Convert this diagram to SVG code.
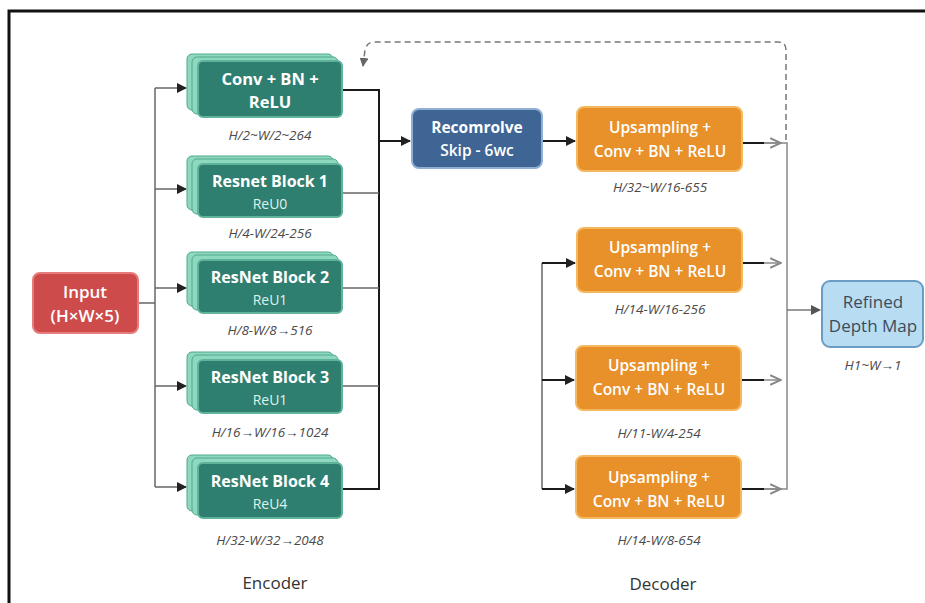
<svg xmlns="http://www.w3.org/2000/svg" width="925" height="603" viewBox="0 0 925 603">
<defs>
<style>
.back{fill:#8fd8c0;stroke:#4fa88e;stroke-width:1}
.front{fill:#2f7f70;stroke:#5fb39b;stroke-width:2}
.t{font-family:"Open Sans","Noto Sans",sans-serif;fill:#ffffff;text-anchor:middle}
.b{font-weight:700;font-size:16.5px}
.r{font-weight:700;font-size:16px}
.s{font-weight:400;font-size:14px;fill:#dff2ec}
.u{font-weight:600;font-size:15.5px}
.lab{font-family:"Open Sans","Noto Sans",sans-serif;font-style:italic;font-size:13.5px;fill:#4a4a4a;text-anchor:middle}
.sec{font-family:"Open Sans","Noto Sans",sans-serif;font-size:17px;fill:#333;text-anchor:middle}
.orange{fill:#e8902a;stroke:#f4b860;stroke-width:2}
.g{fill:none;stroke:#666;stroke-width:1.5}
.k{fill:none;stroke:#1a1a1a;stroke-width:2}
</style>
<marker id="ah" viewBox="0 0 10 10" refX="9" refY="5" markerWidth="10" markerHeight="10" markerUnits="userSpaceOnUse" orient="auto"><path d="M0,0 L10,5 L0,10 z" fill="#222"/></marker>
<marker id="ahg" viewBox="0 0 10 10" refX="9" refY="5" markerWidth="10" markerHeight="10" markerUnits="userSpaceOnUse" orient="auto"><path d="M0,0 L10,5 L0,10 z" fill="#555"/></marker>
<marker id="ahd" viewBox="0 0 10 10" refX="9" refY="5" markerWidth="9" markerHeight="9" markerUnits="userSpaceOnUse" orient="auto"><path d="M0,0 L10,5 L0,10 z" fill="#666"/></marker>
<marker id="chev" viewBox="0 0 10 10" refX="9" refY="5" markerWidth="12" markerHeight="12" markerUnits="userSpaceOnUse" orient="auto"><path d="M0,1 L9,5 L0,9" fill="none" stroke="#888" stroke-width="1.6"/></marker>
</defs>
<rect x="0" y="0" width="925" height="603" fill="#ffffff"/>
<path d="M9,603 L9,11 L925,11" fill="none" stroke="#111" stroke-width="3"/>

<g id="connectors">
  <path class="g" d="M138,303 L155,303"/>
  <path class="g" d="M155,88 L155,487"/>
  <path class="g" d="M155,88 L186,88" marker-end="url(#ah)"/>
  <path class="g" d="M155,189 L186,189" marker-end="url(#ah)"/>
  <path class="g" d="M155,288 L186,288" marker-end="url(#ah)"/>
  <path class="g" d="M155,386 L186,386" marker-end="url(#ah)"/>
  <path class="g" d="M155,487 L186,487" marker-end="url(#ah)"/>
  <path class="k" d="M342,90 L379,90 L379,489 L342,489"/>
  <path class="g" d="M342,193 L379,193"/>
  <path class="g" d="M342,288 L379,288"/>
  <path class="g" d="M342,386 L379,386"/>
  <path class="k" d="M379,141 L410,141" marker-end="url(#ah)"/>
  <path class="k" d="M542,141 L575,141" marker-end="url(#ah)"/>
  <path class="g" d="M542,263 L542,489"/>
  <path class="k" d="M542,263 L575,263" marker-end="url(#ah)"/>
  <path class="k" d="M542,380 L574,380" marker-end="url(#ah)"/>
  <path class="k" d="M542,489 L574,489" marker-end="url(#ah)"/>
  <path class="k" d="M742,143 L764,143"/>
  <path d="M764,143 L781,143" fill="none" stroke="#888" stroke-width="1.5" marker-end="url(#chev)"/>
  <path class="k" d="M742,263 L764,263"/>
  <path d="M764,263 L781,263" fill="none" stroke="#888" stroke-width="1.5" marker-end="url(#chev)"/>
  <path class="k" d="M741,380 L764,380"/>
  <path d="M764,380 L781,380" fill="none" stroke="#888" stroke-width="1.5" marker-end="url(#chev)"/>
  <path class="k" d="M741,489 L764,489"/>
  <path d="M764,489 L781,489" fill="none" stroke="#888" stroke-width="1.5" marker-end="url(#chev)"/>
  <path d="M764,143 L787,143 L787,489 L764,489" fill="none" stroke="#888" stroke-width="1.5"/>
  <path d="M787,310 L820,310" fill="none" stroke="#777" stroke-width="1.5" marker-end="url(#ahg)"/>
  <path d="M786,140 L786,50 Q786,42 778,42 L374,42 Q367,42 365,50 L363,66" fill="none" stroke="#777" stroke-width="1.5" stroke-dasharray="6 4" marker-end="url(#ahd)"/>
</g>

<g id="input">
  <rect x="33" y="273" width="105" height="60" rx="7" fill="#cd4b4b" stroke="#e57b7b" stroke-width="2"/>
  <text class="t" x="85" y="298" style="font-size:17px;font-weight:600">Input</text>
  <text class="t" x="85" y="322" style="font-size:17px;font-weight:600">(H×W×5)</text>
</g>

<g id="enc-conv">
  <rect class="back" x="187" y="54" width="146" height="56" rx="5"/>
  <rect class="back" x="192" y="57" width="146" height="57" rx="5"/>
  <rect class="front" x="198" y="61" width="144" height="56" rx="5"/>
  <text class="t b" x="270" y="85">Conv + BN +</text>
  <text class="t b" x="270" y="108">ReLU</text>
  <text class="lab" x="270" y="140">H/2~W/2~264</text>
</g>

<g id="enc-res1">
  <rect class="back" x="187" y="156" width="146" height="54" rx="5"/>
  <rect class="back" x="192" y="159" width="146" height="55" rx="5"/>
  <rect class="front" x="198" y="164" width="144" height="53" rx="5"/>
  <text class="t r" x="270" y="187">Resnet Block 1</text>
  <text class="t s" x="270" y="209">ReU0</text>
  <text class="lab" x="270" y="238">H/4-W/24-256</text>
</g>

<g id="enc-res2">
  <rect class="back" x="187" y="252" width="146" height="54" rx="5"/>
  <rect class="back" x="192" y="255" width="146" height="55" rx="5"/>
  <rect class="front" x="198" y="260" width="144" height="53" rx="5"/>
  <text class="t r" x="270" y="283">ResNet Block 2</text>
  <text class="t s" x="270" y="305">ReU1</text>
  <text class="lab" x="270" y="335">H/8-W/8→516</text>
</g>

<g id="enc-res3">
  <rect class="back" x="187" y="352" width="146" height="54" rx="5"/>
  <rect class="back" x="192" y="355" width="146" height="55" rx="5"/>
  <rect class="front" x="198" y="360" width="144" height="53" rx="5"/>
  <text class="t r" x="270" y="383">ResNet Block 3</text>
  <text class="t s" x="270" y="405">ReU1</text>
  <text class="lab" x="270" y="437">H/16→W/16→1024</text>
</g>

<g id="enc-res4">
  <rect class="back" x="187" y="455" width="146" height="56" rx="5"/>
  <rect class="back" x="192" y="458" width="146" height="57" rx="5"/>
  <rect class="front" x="198" y="463" width="144" height="55" rx="5"/>
  <text class="t r" x="270" y="487">ResNet Block 4</text>
  <text class="t s" x="270" y="509">ReU4</text>
  <text class="lab" x="270" y="545">H/32-W/32→2048</text>
</g>

<text class="sec" x="275" y="589">Encoder</text>

<g id="recon">
  <rect x="412" y="109" width="130" height="59" rx="7" fill="#3f6595" stroke="#8fb0d4" stroke-width="2"/>
  <text class="t" x="477" y="133" style="font-size:15.5px;font-weight:700">Recomrolve</text>
  <text class="t" x="477" y="156" style="font-size:15.5px;font-weight:600">Skip - 6wc</text>
</g>

<g id="dec-up1">
  <rect class="orange" x="577" y="107" width="165" height="64" rx="7"/>
  <text class="t u" x="660" y="133">Upsampling +</text>
  <text class="t u" x="660" y="157">Conv + BN + ReLU</text>
  <text class="lab" x="660" y="192">H/32~W/16-655</text>
</g>

<g id="dec-up2">
  <rect class="orange" x="577" y="228" width="165" height="64" rx="7"/>
  <text class="t u" x="660" y="253">Upsampling +</text>
  <text class="t u" x="660" y="277">Conv + BN + ReLU</text>
  <text class="lab" x="660" y="314">H/14-W/16-256</text>
</g>

<g id="dec-up3">
  <rect class="orange" x="576" y="346" width="165" height="64" rx="7"/>
  <text class="t u" x="659" y="371">Upsampling +</text>
  <text class="t u" x="659" y="395">Conv + BN + ReLU</text>
  <text class="lab" x="659" y="438">H/11-W/4-254</text>
</g>

<g id="dec-up4">
  <rect class="orange" x="576" y="456" width="165" height="62" rx="7"/>
  <text class="t u" x="659" y="483">Upsampling +</text>
  <text class="t u" x="659" y="507">Conv + BN + ReLU</text>
  <text class="lab" x="659" y="545">H/14-W/8-654</text>
</g>

<text class="sec" x="663" y="590">Decoder</text>

<g id="refined">
  <rect x="822" y="281" width="101" height="66" rx="8" fill="#b8dcf1" stroke="#6b9cc4" stroke-width="2"/>
  <text class="t" x="873" y="308" style="font-size:17px;fill:#3b4c5d">Refined</text>
  <text class="t" x="873" y="332" style="font-size:17px;fill:#3b4c5d">Depth Map</text>
  <text class="lab" x="873" y="370">H1~W→1</text>
</g>
</svg>
